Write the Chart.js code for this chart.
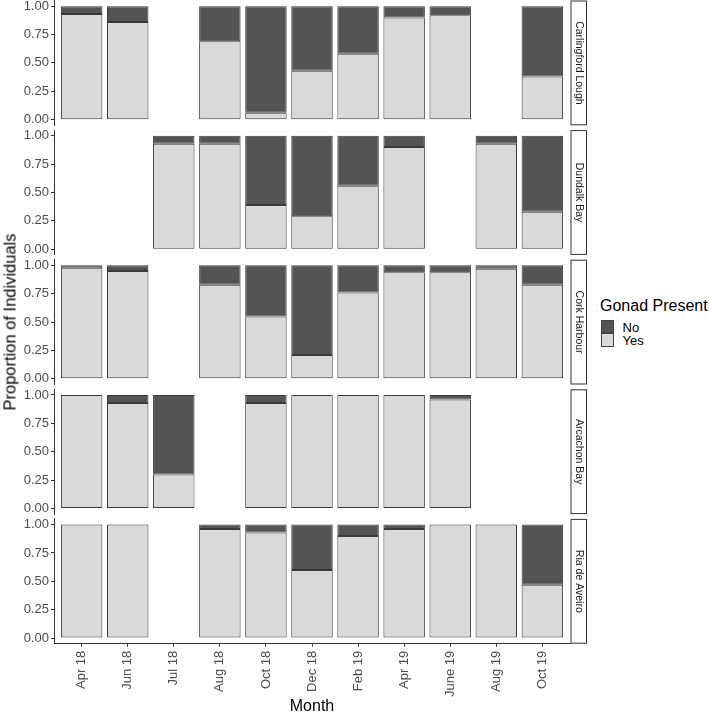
<!DOCTYPE html>
<html>
<head>
<meta charset="utf-8">
<script src="https://cdn.jsdelivr.net/npm/chart.js@4.4.0/dist/chart.umd.min.js"></script>
<style>
    body { margin: 0; background: #fff; font-family: "Liberation Sans", Arial, sans-serif; }
    #wrap { position: relative; width: 709px; height: 719px; overflow: hidden; background: #fff; }
    canvas { position: absolute; left: 0; top: 0; }
    #ytitle { position: absolute; left: 10px; top: 322px; transform: translate(-50%, -50%) rotate(-90deg);
              font-size: 16.5px; white-space: nowrap; color: #000; line-height: 17px; }
    .ltxt { position: absolute; white-space: nowrap; color: #000; }
    .key { position: absolute; left: 600.5px; width: 13.5px; height: 13.4px; box-sizing: border-box; border: 1px solid #444; }
</style>
</head>
<body>
<div id="wrap">
    <canvas id="p0" width="600" height="719"></canvas>
    <canvas id="p1" width="600" height="719"></canvas>
    <canvas id="p2" width="600" height="719"></canvas>
    <canvas id="p3" width="600" height="719"></canvas>
    <canvas id="p4" width="600" height="719"></canvas>
    <div id="ytitle">Proportion of Individuals</div>
    <div class="ltxt" style="left:600px; top:298px; font-size:16px; line-height:16px;">Gonad Present</div>
    <div class="key" style="top:320px; background:#545454;"></div>
    <div class="key" style="top:333.3px; background:#d9d9d9;"></div>
    <div class="ltxt" style="left:622.5px; top:320.5px; font-size:13px; line-height:13px;">No</div>
    <div class="ltxt" style="left:622.5px; top:334px; font-size:13px; line-height:13px;">Yes</div>
</div>
<script>
const months = ["Apr 18", "Jun 18", "Jul 18", "Aug 18", "Oct 18", "Dec 18", "Feb 19", "Apr 19", "June 19", "Aug 19", "Oct 19"];
const sites = ["Carlingford Lough", "Dundalk Bay", "Cork Harbour", "Arcachon Bay", "Ria de Aveiro"];
const yTicks = [0, 0.25, 0.5, 0.75, 1];

const carlingfordYes = [0.93, 0.86, null, 0.69, 0.06, 0.43, 0.58, 0.90, 0.92, null, 0.38];
const carlingfordNo  = [0.07, 0.14, null, 0.31, 0.94, 0.57, 0.42, 0.10, 0.08, null, 0.62];
const dundalkYes = [null, null, 0.93, 0.93, 0.39, 0.29, 0.56, 0.90, null, 0.93, 0.33];
const dundalkNo  = [null, null, 0.07, 0.07, 0.61, 0.71, 0.44, 0.10, null, 0.07, 0.67];
const corkYes = [0.98, 0.95, null, 0.83, 0.55, 0.21, 0.76, 0.94, 0.94, 0.97, 0.83];
const corkNo  = [0.02, 0.05, null, 0.17, 0.45, 0.79, 0.24, 0.06, 0.06, 0.03, 0.17];
const arcachonYes = [1, 0.93, 0.30, null, 0.93, 1, 1, 1, 0.96, null, null];
const arcachonNo  = [0, 0.07, 0.70, null, 0.07, 0, 0, 0, 0.04, null, null];
const aveiroYes = [1, 1, null, 0.96, 0.93, 0.60, 0.90, 0.96, 1, 1, 0.47];
const aveiroNo  = [0, 0, null, 0.04, 0.07, 0.40, 0.10, 0.04, 0, 0, 0.53];

const yesSeries = [carlingfordYes, dundalkYes, corkYes, arcachonYes, aveiroYes];
const noSeries = [carlingfordNo, dundalkNo, corkNo, arcachonNo, aveiroNo];

const FONT = "'Liberation Sans', Arial, sans-serif";
const PANEL_H = 124.8;
const PANEL_STEP = 129.6;
const AXIS_LEFT = 54;
const PANEL_RIGHT = 570;
const CANVAS_W = 600;
const CANVAS_H = 719;

// strip box with the site name on the right side of each panel
const stripPlugin = {
    id: "strip",
    afterDraw(chart, args, opts) {
        const { ctx, chartArea } = chart;
        const x0 = chartArea.right + 0.5;
        const w = 16.5;
        ctx.save();
        ctx.fillStyle = "#fff";
        ctx.strokeStyle = "#333";
        ctx.lineWidth = 1;
        ctx.fillRect(x0, chartArea.top, w, chartArea.bottom - chartArea.top);
        ctx.strokeRect(x0 + 0.5, chartArea.top + 0.5, w - 1, chartArea.bottom - chartArea.top - 1);
        ctx.translate(x0 + w / 2, (chartArea.top + chartArea.bottom) / 2);
        ctx.rotate(Math.PI / 2);
        ctx.fillStyle = "#1a1a1a";
        ctx.font = "10.5px " + FONT;
        ctx.textAlign = "center";
        ctx.textBaseline = "middle";
        ctx.fillText(opts.label, 0, 0);
        ctx.restore();
    }
};

const makePanel = (idx) => {
    const top = 0.5 + idx * PANEL_STEP;
    const bottom = top + PANEL_H;
    const isBottom = idx === sites.length - 1;
    const toPoints = (arr) => arr.map((v, i) => ({ x: i, y: v }));

    const barStyle = {
        borderColor: "#3a3a3a",
        borderWidth: 1,
        borderSkipped: false,
        categoryPercentage: 1.0,
        barPercentage: 0.9
    };

    const ctx = document.getElementById("p" + idx).getContext("2d");
    new Chart(ctx, {
        type: "bar",
        data: {
            datasets: [
                Object.assign({ label: "Yes", data: toPoints(yesSeries[idx]), backgroundColor: "#d9d9d9" }, barStyle),
                Object.assign({ label: "No", data: toPoints(noSeries[idx]), backgroundColor: "#545454" }, barStyle)
            ]
        },
        options: {
            responsive: false,
            animation: false,
            devicePixelRatio: 1,
            layout: {
                padding: {
                    left: 0,
                    right: CANVAS_W - PANEL_RIGHT,
                    top,
                    bottom: isBottom ? 0 : CANVAS_H - bottom
                }
            },
            plugins: {
                legend: { display: false },
                tooltip: { enabled: false },
                strip: { label: sites[idx] }
            },
            scales: {
                x: {
                    type: "linear",
                    display: isBottom,
                    stacked: true,
                    offset: false,
                    min: -0.6,
                    max: months.length - 0.4,
                    afterBuildTicks: (scale) => { scale.ticks = months.map((m, i) => ({ value: i })); },
                    afterFit: (scale) => {
                        if (isBottom) scale.height = CANVAS_H - bottom;
                        scale.paddingLeft = 0;
                        scale.paddingRight = 0;
                    },
                    grid: { drawOnChartArea: false, offset: false, tickLength: 3, color: "#333" },
                    border: { display: true, color: "#333", width: 1 },
                    ticks: {
                        autoSkip: false,
                        minRotation: 90,
                        maxRotation: 90,
                        padding: 4,
                        color: "#4d4d4d",
                        font: { family: FONT, size: 13 },
                        callback: (v) => months[v]
                    },
                    title: {
                        display: true,
                        text: "Month",
                        color: "#000",
                        font: { family: FONT, size: 16 },
                        padding: { top: 0, bottom: 3 }
                    }
                },
                y: {
                    stacked: true,
                    min: -0.05,
                    max: 1.05,
                    afterBuildTicks: (scale) => { scale.ticks = yTicks.map((v) => ({ value: v })); },
                    afterFit: (scale) => {
                        scale.width = AXIS_LEFT;
                        scale.paddingTop = 0;
                        scale.paddingBottom = 0;
                    },
                    grid: { drawOnChartArea: false, tickLength: 3, color: "#333" },
                    border: { display: true, color: "#333", width: 1 },
                    ticks: {
                        padding: 2,
                        color: "#4d4d4d",
                        font: { family: FONT, size: 13 },
                        callback: (v) => v.toFixed(2)
                    }
                }
            }
        },
        plugins: [stripPlugin]
    });
};

sites.forEach((s, i) => makePanel(i));
</script>
</body>
</html>
